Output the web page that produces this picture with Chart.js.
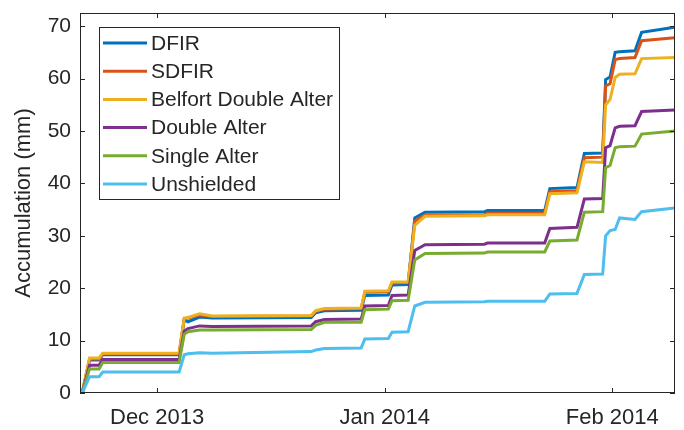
<!DOCTYPE html>
<html>
<head>
<meta charset="utf-8">
<title>Accumulation</title>
<script src="https://cdn.jsdelivr.net/npm/chart.js@4.4.1/dist/chart.umd.min.js"></script>
<style>
  body { margin: 0; background: #fff; }
  canvas { display: block; }
</style>
</head>
<body>
<canvas id="accChart" width="684" height="430"></canvas>
<script>
// days since 1 Dec 2013
var days = [-10.5, -10.2, -9.2, -7.9, -7.4, 3.0, 3.7, 4.2, 5.8, 7.5, 21.0, 21.6, 22.8, 27.8, 28.3, 31.5, 32.0, 34.2,
            35.1, 36.5, 44.6, 45.0, 52.8, 53.5, 57.2, 58.2, 60.7, 61.1, 61.7, 62.4, 63.0, 65.1, 66.0, 70.5];

var dfir   = [0, 0, 6.3, 6.3, 7.3, 7.3, 14.0, 13.6, 14.5, 14.3, 14.4, 15.3, 15.7, 15.8, 18.6, 18.7, 20.6, 20.7,
              33.4, 34.5, 34.6, 34.8, 34.8, 39.0, 39.2, 45.7, 45.8, 59.8, 60.3, 65.0, 65.1, 65.3, 68.8, 69.8];
var sdfir  = [0, 0, 6.5, 6.5, 7.5, 7.5, 14.2, 14.3, 14.9, 14.6, 14.7, 15.6, 16.0, 16.1, 19.2, 19.3, 21.0, 21.1,
              32.8, 33.9, 34.0, 34.3, 34.3, 38.4, 38.6, 44.9, 45.0, 58.6, 59.0, 63.6, 63.8, 64.0, 67.2, 67.8];
var belfort = [0, 0, 6.7, 6.7, 7.6, 7.6, 14.3, 14.4, 15.1, 14.7, 14.8, 15.7, 16.1, 16.2, 19.4, 19.5, 21.2, 21.2,
              32.0, 33.7, 33.8, 34.0, 34.0, 38.0, 38.2, 44.1, 44.0, 55.0, 56.0, 60.2, 60.8, 60.9, 63.8, 64.0];
var dblAlter = [0, 0, 5.3, 5.3, 6.4, 6.4, 11.8, 12.3, 12.8, 12.7, 12.8, 13.6, 14.0, 14.1, 16.6, 16.7, 18.6, 18.7,
              27.2, 28.3, 28.4, 28.6, 28.6, 31.4, 31.6, 37.0, 37.1, 46.8, 47.2, 50.6, 50.9, 51.0, 53.7, 54.0];
var sglAlter = [0, 0, 4.6, 4.6, 5.8, 5.8, 11.2, 11.7, 12.0, 12.0, 12.1, 12.9, 13.5, 13.5, 15.9, 16.0, 17.6, 17.7,
              25.4, 26.6, 26.7, 26.9, 26.9, 29.0, 29.2, 34.5, 34.6, 43.0, 43.4, 46.8, 47.0, 47.1, 49.4, 50.0];
var unshielded = [0, 0, 3.1, 3.1, 4.0, 4.0, 7.3, 7.5, 7.7, 7.6, 7.9, 8.2, 8.5, 8.6, 10.3, 10.4, 11.6, 11.7,
              16.6, 17.3, 17.4, 17.5, 17.5, 18.9, 19.0, 22.6, 22.7, 30.0, 31.0, 31.2, 33.4, 33.1, 34.6, 35.3];

var seriesNames = ["DFIR", "SDFIR", "Belfort Double Alter", "Double Alter", "Single Alter", "Unshielded"];
var seriesColors = ["#0072BD", "#D95319", "#EDB120", "#7E2F8E", "#77AC30", "#4DBEEE"];
var tickDays = [0, 31, 62];
var tickLabels = ["Dec 2013", "Jan 2014", "Feb 2014"];
var yTicks = [0, 10, 20, 30, 40, 50, 60, 70];

var FONT = "'Liberation Sans', Arial, Helvetica, sans-serif";
var INK = "#262626";

function pts(vals) {
  return days.map(function (d, i) { return { x: d, y: vals[i] }; });
}

var allSeries = [dfir, sdfir, belfort, dblAlter, sglAlter, unshielded];
var datasets = allSeries.map(function (vals, i) {
  return {
    label: seriesNames[i],
    data: pts(vals),
    borderColor: seriesColors[i],
    backgroundColor: seriesColors[i],
    borderWidth: 3,
    pointRadius: 0,
    tension: 0,
    order: allSeries.length - i   // later series on top, like matlab
  };
});

// box + inward ticks on all four sides
var boxAxes = {
  id: 'boxAxes',
  afterDatasetsDraw: function (chart) {
    var ctx = chart.ctx, a = chart.chartArea, x = chart.scales.x, y = chart.scales.y;
    ctx.save();
    ctx.strokeStyle = INK;
    ctx.lineWidth = 1;
    ctx.strokeRect(a.left + 0.5, a.top + 0.5, a.right - a.left - 1, a.bottom - a.top - 1);
    ctx.beginPath();
    x.ticks.forEach(function (t) {
      var px = Math.round(x.getPixelForValue(t.value)) + 0.5;
      ctx.moveTo(px, a.bottom); ctx.lineTo(px, a.bottom - 5);
      ctx.moveTo(px, a.top); ctx.lineTo(px, a.top + 5);
    });
    y.ticks.forEach(function (t) {
      var py = Math.round(y.getPixelForValue(t.value)) + 0.5;
      ctx.moveTo(a.left, py); ctx.lineTo(a.left + 5, py);
      ctx.moveTo(a.right, py); ctx.lineTo(a.right - 5, py);
    });
    ctx.stroke();
    ctx.restore();
  }
};

// legend box inside the axes, upper left
var boxLegend = {
  id: 'boxLegend',
  afterDraw: function (chart) {
    var ctx = chart.ctx, a = chart.chartArea;
    var bx = a.left + 19, by = a.top + 14, bw = 240, bh = 172, rowH = 28.2;
    ctx.save();
    ctx.fillStyle = '#fff';
    ctx.fillRect(bx, by, bw, bh);
    ctx.strokeStyle = INK;
    ctx.lineWidth = 1;
    ctx.strokeRect(bx + 0.5, by + 0.5, bw, bh);
    ctx.font = '21px ' + FONT;
    ctx.textBaseline = 'middle';
    chart.data.datasets.forEach(function (ds, i) {
      var cy = by + 16 + i * rowH;
      ctx.strokeStyle = ds.borderColor;
      ctx.lineWidth = 3;
      ctx.beginPath();
      ctx.moveTo(bx + 4, cy); ctx.lineTo(bx + 48, cy);
      ctx.stroke();
      ctx.fillStyle = INK;
      ctx.fillText(ds.label, bx + 52, cy + 1);
    });
    ctx.restore();
  }
};

var ctx = document.getElementById('accChart').getContext('2d');
var accChart = new Chart(ctx, {
  type: 'line',
  data: { datasets: datasets },
  options: {
    responsive: false,
    animation: false,
    layout: { padding: { top: 13, right: 9, left: 0, bottom: 0 } },
    plugins: { legend: { display: false }, tooltip: { enabled: false } },
    scales: {
      x: {
        type: 'linear',
        min: -10.5,
        max: 70.55,
        grid: { display: false, drawTicks: false },
        border: { display: false },
        afterBuildTicks: function (scale) {
          scale.ticks = tickDays.map(function (v) { return { value: v }; });
        },
        afterFit: function (scale) {
          scale.height = 37;
          scale.paddingLeft = 0;
          scale.paddingRight = 0;
        },
        ticks: {
          autoSkip: false,
          maxRotation: 0,
          padding: 12,
          color: INK,
          font: { family: FONT, size: 22 },
          callback: function (v) { return tickLabels[tickDays.indexOf(v)]; }
        }
      },
      y: {
        min: 0,
        max: 72.5,
        grid: { display: false, drawTicks: false },
        border: { display: false },
        afterBuildTicks: function (scale) {
          scale.ticks = yTicks.map(function (v) { return { value: v }; });
        },
        afterFit: function (scale) {
          scale.width = 80;
          scale.paddingTop = 0;
          scale.paddingBottom = 0;
        },
        ticks: {
          padding: 9,
          color: INK,
          font: { family: FONT, size: 21 }
        },
        title: {
          display: true,
          text: 'Accumulation (mm)',
          color: INK,
          font: { family: FONT, size: 22 },
          padding: { top: 11, bottom: 0 }
        }
      }
    }
  },
  plugins: [boxAxes, boxLegend]
});
</script>
</body>
</html>
